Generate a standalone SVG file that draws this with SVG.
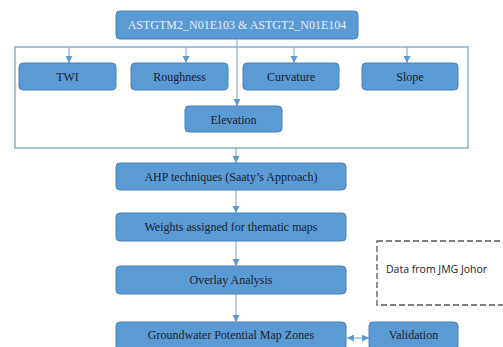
<svg xmlns="http://www.w3.org/2000/svg" width="503" height="347" viewBox="0 0 503 347">
<style>
.box{fill:#5b9bd5;stroke:#4a80b5;stroke-width:1}
.lbl{font-family:"Liberation Serif","Times New Roman",serif;font-size:12px;fill:#17222f;text-anchor:middle}
.top{fill:#e6eef8}
.con{stroke:#6fa3d8;stroke-width:1;fill:none}
.frame{fill:none;stroke:#94b3d3;stroke-width:1.6}
</style>
<defs>
<marker id="ah" viewBox="0 0 8 8" refX="8" refY="4" markerWidth="7" markerHeight="7" orient="auto" markerUnits="userSpaceOnUse">
<path d="M0,0 L8,4 L0,8 z" fill="#5b9bd5"/>
</marker>
<marker id="ahs" viewBox="0 0 8 8" refX="0" refY="4" markerWidth="7" markerHeight="7" orient="auto" markerUnits="userSpaceOnUse">
<path d="M8,0 L0,4 L8,8 z" fill="#5b9bd5"/>
</marker>
</defs>
<g id="frame"><rect class="frame" x="15" y="47" width="453" height="101"/></g>
<g id="connectors">
<line class="con" x1="237" y1="39" x2="237" y2="106" marker-end="url(#ah)"/>
<line class="con" x1="69" y1="47" x2="69" y2="63" marker-end="url(#ah)"/>
<line class="con" x1="186" y1="47" x2="186" y2="63" marker-end="url(#ah)"/>
<line class="con" x1="294" y1="47" x2="294" y2="63" marker-end="url(#ah)"/>
<line class="con" x1="407" y1="47" x2="407" y2="63" marker-end="url(#ah)"/>
<line class="con" x1="236" y1="148" x2="236" y2="163" marker-end="url(#ah)"/>
<line class="con" x1="236" y1="190" x2="236" y2="213" marker-end="url(#ah)"/>
<line class="con" x1="236" y1="241" x2="236" y2="266" marker-end="url(#ah)"/>
<line class="con" x1="236" y1="294" x2="236" y2="322" marker-end="url(#ah)"/>
<line class="con" x1="347" y1="338" x2="369" y2="338" marker-start="url(#ahs)" marker-end="url(#ah)"/>
</g>
<g id="source"><rect class="box" x="116" y="11" width="242" height="28" rx="4"/><text class="lbl top" x="237" y="29">ASTGTM2_N01E103 &amp; ASTGT2_N01E104</text></g>
<g id="twi"><rect class="box" x="19" y="63" width="97" height="27" rx="4"/><text class="lbl" x="67.5" y="81">TWI</text></g>
<g id="roughness"><rect class="box" x="131" y="63" width="97" height="27" rx="4"/><text class="lbl" x="179.5" y="81">Roughness</text></g>
<g id="curvature"><rect class="box" x="243" y="63" width="96" height="27" rx="4"/><text class="lbl" x="291" y="81">Curvature</text></g>
<g id="slope"><rect class="box" x="362" y="63" width="96" height="27" rx="4"/><text class="lbl" x="410" y="81">Slope</text></g>
<g id="elevation"><rect class="box" x="185" y="106" width="97" height="26" rx="4"/><text class="lbl" x="233.5" y="124">Elevation</text></g>
<g id="ahp"><rect class="box" x="116" y="163" width="230" height="27" rx="4"/><text class="lbl" x="231" y="181">AHP techniques (Saaty’s Approach)</text></g>
<g id="weights"><rect class="box" x="116" y="213" width="230" height="28" rx="4"/><text class="lbl" x="231" y="231">Weights assigned for thematic maps</text></g>
<g id="overlay"><rect class="box" x="116" y="266" width="230" height="28" rx="4"/><text class="lbl" x="231" y="284">Overlay Analysis</text></g>
<g id="gwpz"><rect class="box" x="116" y="322" width="230" height="28" rx="4"/><text class="lbl" x="231" y="339">Groundwater Potential Map Zones</text></g>
<g id="validation"><rect class="box" x="369" y="322" width="89" height="28" rx="4"/><text class="lbl" x="413.5" y="339">Validation</text></g>
<g id="jmg"><rect x="377" y="241" width="135" height="64" fill="none" stroke="#555" stroke-width="1.3" stroke-dasharray="6,3"/><text x="386" y="273" font-family="'Open Sans','Liberation Sans',sans-serif" font-size="10.5" fill="#222">Data from JMG Johor</text></g>
</svg>
